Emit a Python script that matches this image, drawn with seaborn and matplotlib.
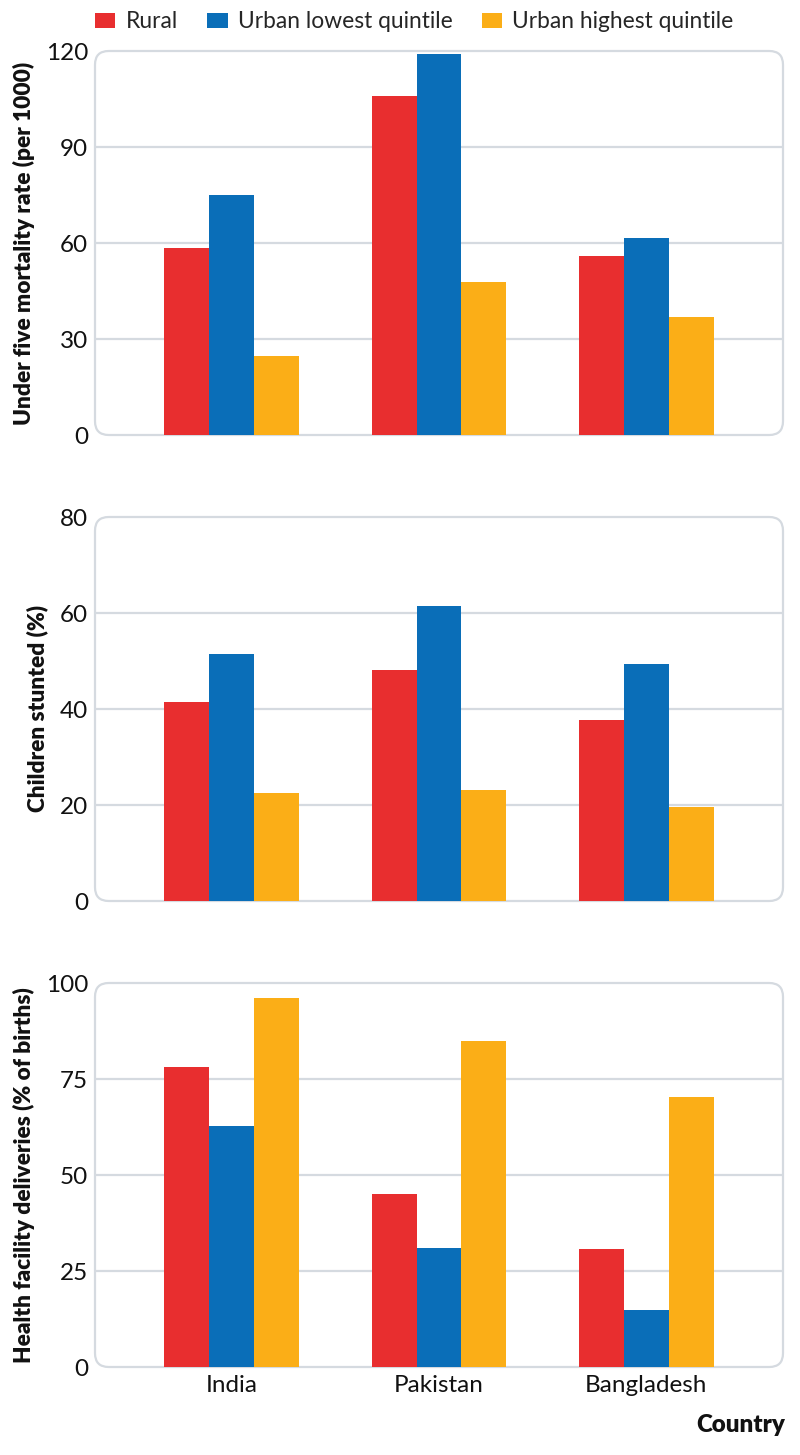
import numpy as np
import pandas as pd
import matplotlib
matplotlib.use("Agg")
import matplotlib.pyplot as plt
from matplotlib.patches import FancyBboxPatch, Patch
import seaborn as sns

countries = ["India", "Pakistan", "Bangladesh"]
groups = ["Rural", "Urban lowest quintile", "Urban highest quintile"]

u5mr_rural = [58.4, 106.0, 55.8]
u5mr_low = [75.0, 119.0, 61.6]
u5mr_high = [24.8, 47.7, 37.0]

stunt_rural = [41.5, 48.1, 37.8]
stunt_low = [51.4, 61.5, 49.3]
stunt_high = [22.5, 23.1, 19.5]

hfd_rural = [78.0, 45.1, 30.6]
hfd_low = [62.7, 31.0, 14.8]
hfd_high = [96.1, 84.8, 70.3]

colors = ["#E82E2F", "#0A6EB8", "#FBAE17"]

panels = [
    ("Under five mortality rate (per 1000)", [u5mr_rural, u5mr_low, u5mr_high], [0, 30, 60, 90, 120]),
    ("Children stunted (%)", [stunt_rural, stunt_low, stunt_high], [0, 20, 40, 60, 80]),
    ("Health facility deliveries (% of births)", [hfd_rural, hfd_low, hfd_high], [0, 25, 50, 75, 100]),
]

sns.set_theme(style="white")
plt.rcParams["font.family"] = ["Lato", "DejaVu Sans"]

W, H = 800, 1455
fig = plt.figure(figsize=(W / 100, H / 100), dpi=100)

ax_left, ax_right = 95, 783
tops = [51, 517, 983]
height = 384
grid_col = "#D5DAE0"
txt = "#111111"

for (ylabel, series, ticks), top in zip(panels, tops):
    ax = fig.add_axes([ax_left / W, 1 - (top + height) / H, (ax_right - ax_left) / W, height / H])
    rows = []
    for g, vals in zip(groups, series):
        for c, v in zip(countries, vals):
            rows.append({"country": c, "group": g, "value": v})
    df = pd.DataFrame(rows)
    sns.barplot(data=df, x="country", y="value", hue="group", order=countries,
                hue_order=groups, palette=colors, width=0.65, gap=0, ax=ax,
                legend=False, linewidth=0, saturation=1, zorder=3)
    ax.set_ylim(ticks[0], ticks[-1])
    ax.set_xlim(-0.66, 2.66)
    ax.set_yticks(ticks)
    ax.set_yticklabels([str(t) for t in ticks], fontsize=17.5, color=txt)
    for t in ticks[1:-1]:
        ax.axhline(t, color=grid_col, lw=1.6, zorder=1)
    for s in ax.spines.values():
        s.set_visible(False)
    box = FancyBboxPatch((0, 0), 1, 1, boxstyle="round,pad=0,rounding_size=0.02",
                         transform=ax.transAxes, fill=False, ec=grid_col, lw=1.6,
                         clip_on=False, zorder=2, mutation_aspect=688 / 384)
    ax.add_patch(box)
    ax.tick_params(axis="y", length=0, pad=5)
    ax.tick_params(axis="x", length=0, pad=6)
    ax.set_ylabel(ylabel, fontsize=16.3, fontweight="heavy", color=txt, labelpad=8)
    ax.set_xlabel("")
    if top != tops[-1]:
        ax.set_xticklabels([])
    else:
        ax.set_xticklabels(countries, fontsize=17.5, color=txt)

fig.text(785 / W, 1 - 1425 / H, "Country", ha="right", va="center",
         fontsize=17.4, fontweight="heavy", color=txt)

handles = [Patch(facecolor=c, edgecolor="none", label=g) for c, g in zip(colors, groups)]
fig.legend(handles=handles, loc="center", bbox_to_anchor=(414.5 / W, 1 - 22 / H), ncol=3,
           frameon=False, fontsize=16.4, handlelength=0.88, handleheight=0.66,
           handletextpad=0.45, columnspacing=1.3, borderpad=0, borderaxespad=0)

fig.savefig("out.png", dpi=100, facecolor="white")
